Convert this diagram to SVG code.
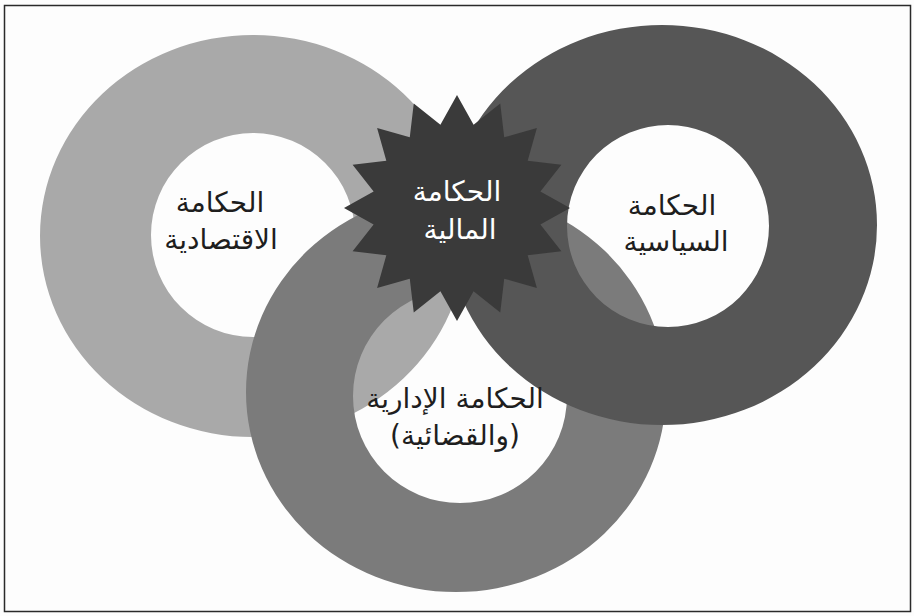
<svg xmlns="http://www.w3.org/2000/svg" width="914" height="616" viewBox="0 0 914 616">
  <style>
    .ring { fill-rule: evenodd; stroke: none; }
    .lbl { font-family: 'DejaVu Sans', sans-serif; font-size: 28px; text-anchor: middle; fill: #1e1e1e; }
    .lbl-w { fill: #ffffff; }
  </style>
  <rect x="0" y="0" width="914" height="616" fill="#fdfdfd"/>
  <rect x="4.5" y="5.5" width="906" height="606" fill="none" stroke="#2a2a2a" stroke-width="1.5"/>

  <g id="ring-economic">
    <path class="ring" fill="#a9a9a9" d="M40,236 a213,201 0 1 0 426,0 a213,201 0 1 0 -426,0 Z M151,235 a102,102 0 1 0 204,0 a102,102 0 1 0 -204,0 Z"/>
    <text class="lbl" direction="rtl" x="220" y="212">الحكامة</text>
    <text class="lbl" direction="rtl" x="221" y="249">الاقتصادية</text>
  </g>

  <g id="ring-administrative">
    <path class="ring" fill="#7b7b7b" d="M246,392 a210,200 0 1 0 420,0 a210,200 0 1 0 -420,0 Z M353,396 a107,107 0 1 0 214,0 a107,107 0 1 0 -214,0 Z"/>
  </g>

  <g id="ring-political">
    <path class="ring" fill="#565656" d="M447,225 a215,200 0 1 0 430,0 a215,200 0 1 0 -430,0 Z M567,226 a101,101 0 1 0 202,0 a101,101 0 1 0 -202,0 Z"/>
    <text class="lbl" direction="rtl" x="672" y="215">الحكامة</text>
    <text class="lbl" direction="rtl" x="676" y="251">السياسية</text>
  </g>

  <g id="label-administrative">
    <text class="lbl" direction="rtl" x="455" y="408">الحكامة الإدارية</text>
    <text class="lbl" direction="rtl" x="455" y="445">(والقضائية)</text>
  </g>

  <g id="star-financial">
    <polygon fill="#3a3a3a" points="457,95 473.58,124.63 500.24,103.6 504.22,137.33 536.9,128.1 527.67,160.78 561.4,164.76 540.37,191.42 570,208 540.37,224.58 561.4,251.24 527.67,255.22 536.9,287.9 504.22,278.67 500.24,312.4 473.58,291.37 457,321 440.42,291.37 413.76,312.4 409.78,278.67 377.1,287.9 386.33,255.22 352.6,251.24 373.63,224.58 344,208 373.63,191.42 352.6,164.76 386.33,160.78 377.1,128.1 409.78,137.33 413.76,103.6 440.42,124.63"/>
    <text class="lbl lbl-w" direction="rtl" x="457" y="201">الحكامة</text>
    <text class="lbl lbl-w" direction="rtl" x="460" y="239">المالية</text>
  </g>

  <g id="connectors"/>
</svg>
